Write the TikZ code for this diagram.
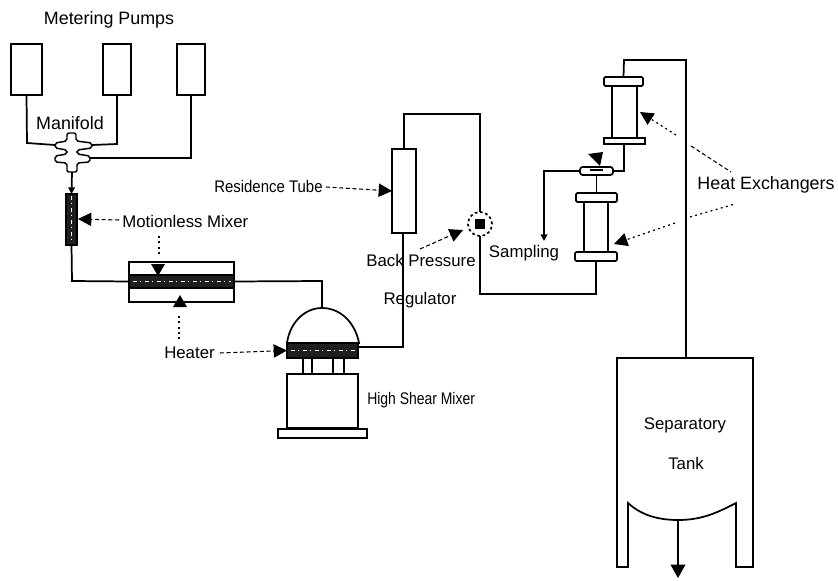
\documentclass[tikz,border=0pt]{standalone}
\usepackage{fontspec}
\usepackage{graphicx}
\setmainfont{Liberation Sans}
\usetikzlibrary{arrows.meta,calc}
\tikzset{
  box/.style={draw=black,line width=1.3pt,fill=white,inner sep=0pt,outer sep=0pt,rectangle},
  band/.style={box,fill=black!88},
  pipe/.style={draw=black,line width=1.3pt,line join=miter},
  lead/.style={draw=black,line width=0.8pt,densely dashed},
  dotlead/.style={draw=black,line width=0.9pt,dash pattern=on 1.5pt off 2.5pt},
  tip/.style={-{Triangle[length=10pt,width=10pt]}},
  smalltip/.style={-{Triangle[length=5pt,width=5pt]}},
  label/.style={font=\fontsize{13.4}{15}\selectfont,inner sep=0pt,anchor=center},
  labelmid/.style={label,font=\fontsize{12.6}{14}\selectfont},
  speck/.style={draw=white,line width=0.5pt,dash pattern=on 3pt off 2pt on 1pt off 3pt},
}
\newcommand\pxbox[6][box]{\node[#1,minimum width={(#5-#3)*0.75pt},minimum height={(#6-#4)*0.75pt}] (#2) at ({(#3+#5)/2},{(#4+#6)/2}) {};}
\begin{document}
\begin{tikzpicture}[x=0.75pt,y=-0.75pt]
\useasboundingbox (0,0) rectangle (838,581);
% pumps
\pxbox{pa}{11}{44}{42}{95}
\pxbox{pb}{103}{44}{131}{95}
\pxbox{pc}{177}{44}{205}{95}
\node[label] (tpumps) at (109,20) {Metering Pumps};
\node[label] (tman) at (70,123) {Manifold};
% manifold
\coordinate (mfl) at (55,145);
\coordinate (mfr) at (92,145);
\coordinate (mfrr) at (90,158);
\coordinate (mfb) at (72,172);
\draw[box,line width=1.1pt,rounded corners=1.5pt] (67,133) -- (76,133) -- (76,141) -- (92,143) -- (92,148) -- (77,150) -- (77,154) -- (90,156) -- (90,162) -- (77,163) -- (77,172) -- (67,172) -- (67,163) -- (55,162) -- (55,156) -- (67,154) -- (67,150) -- (55,148) -- (55,143) -- (67,141) -- cycle;
\draw[pipe] (pa.south) -- (27,143) -- (mfl);
\draw[pipe] (pb.south) -- (117,144) -- (mfr);
\draw[pipe] (pc.south) -- (191,158) -- (mfrr);
% motionless mixer
\pxbox[band]{mix}{66}{194}{77}{245}
\draw[speck] (71.5,196) -- (71.5,243);
\draw[pipe,smalltip] (mfb) -- (mix.north);
\coordinate (mixarrow) at (78,219);
\node[labelmid,anchor=west] (tmix) at (122,221) {Motionless Mixer};
\draw[lead,tip] (tmix.west) ++(-3,-1) -- (mixarrow);
% heater 1
\pxbox{ht}{129}{262}{234}{302}
\pxbox[band]{htb}{129}{275}{234}{288}
\draw[speck] (133,281) -- (231,281);
\fill (151,264) -- (165,264) -- (158,276) -- cycle;
\fill (173,307) -- (187,307) -- (180,295) -- cycle;
\draw[dotlead] (159,236) -- (159,254);
\draw[dotlead] (179,316) -- (179,341);
\draw[pipe] (mix.south) -- (72,281) -- (htb.west);
% mixer vessel
\coordinate (domel) at (287,343);
\coordinate (domer) at (359,343);
\coordinate (dometop) at (322,308);
\draw[box] (domel) .. controls (290,322) and (305,308) .. (dometop) .. controls (340,308) and (355,322) .. (domer) -- cycle;
\pxbox[band]{vb}{287}{343}{358}{358}
\draw[speck] (291,350) -- (355,350);
\pxbox{lega}{303}{358}{312}{374}
\pxbox{legb}{333}{358}{344}{374}
\pxbox{hs}{287}{374}{358}{428}
\pxbox{hsb}{278}{429}{367}{438}
\draw[pipe] (htb.east) -- (322,281) -- (dometop);
\node[labelmid,anchor=west] (theat) at (164,353) {Heater};
\draw[lead,tip] (theat.east) ++(5,0) -- (vb.west);
\node[labelmid,anchor=west] (ths) at (367,400) {\scalebox{0.83}[1]{High Shear Mixer}};
% residence tube
\pxbox{rt}{392}{149}{416}{233}
\coordinate (vbout) at (358,347);
\draw[pipe] (vbout) -- (403,347) -- (403,233.5);
\node[labelmid,anchor=west] (trt) at (214,186) {\scalebox{0.89}[1]{Residence Tube}};
\draw[lead,tip] (trt.east) ++(3,1) -- (rt.west);
% back pressure regulator
\node[draw=black,line width=1.3pt,dash pattern=on 2pt off 2pt,circle,minimum size=18pt,inner sep=0pt,outer sep=0pt] (bpr) at (480,224) {};
\fill (475,219) rectangle (485,229);
\draw[pipe] (404,149) -- (404,114) -- (480,114) -- (bpr.north);
\node[labelmid] (tbp) at (421,260) {Back Pressure};
\node[labelmid] (treg) at (420,300) {Regulator};
\coordinate (bpa) at (463,230);
\coordinate (bpb) at (420,249);
\draw[lead,tip] (bpb) -- (bpa);
\node[labelmid] (tsamp) at (524,253) {Sampling};
% lower exchanger
\pxbox[box,rounded corners=1pt]{lxt}{576}{193}{617}{202}
\pxbox[box,rounded corners=1pt]{lxb}{575}{252}{617}{261}
\draw[pipe] (584,202) -- (584,252) (608,202) -- (608,252);
\draw[pipe] (bpr.south) -- (480,294) -- (596,294) -- (lxb.south);
% valve
\pxbox[box,rounded corners=2pt]{val}{580}{167}{613}{175}
\draw[pipe] (590,170) -- (603,170);
\draw[pipe] (val.south) -- (lxt.north);
\coordinate (sampend) at (544,241);
\draw[pipe,smalltip] (val.west) -- (544,171) -- (sampend);
\fill (588,154) -- (603,152) -- (600,166) -- cycle;
% upper exchanger
\pxbox[box,rounded corners=1pt]{uxt}{604}{77}{643}{86}
\pxbox{uxb}{604}{138}{645}{144}
\draw[pipe] (612,86) -- (612,138) (637,86) -- (637,138);
\draw[pipe] (val.east) -- (624,171) -- (624,144);
% tank
\coordinate (tanktop) at (686,358);
\draw[pipe] (uxt.north) -- (624,60) -- (686,60) -- (tanktop);
\coordinate (bowlbot) at (678,520);
\coordinate (outlet) at (678,578);
\draw[pipe,fill=white] (617,358) -- (753,358) -- (753,567) -- (736,567) -- (736,503) .. controls (715,514) and (700,520) .. (bowlbot) .. controls (656,520) and (640,514) .. (628,503) -- (628,567) -- (617,567) -- cycle;
\draw[draw=black,line width=1pt,-{Triangle[length=10pt,width=11pt]}] (bowlbot) -- (outlet);
\node[labelmid] (tsep) at (685,425) {Separatory};
\node[labelmid] (ttank) at (686,463) {Tank};
% heat exchanger leads
\node[label] (thx) at (766,185) {Heat Exchangers};
\coordinate (ha) at (640,112);
\coordinate (hb) at (676,135);
\coordinate (hc) at (691,146);
\coordinate (hd) at (731,172);
\coordinate (la) at (614,244);
\coordinate (lb) at (675,223);
\coordinate (lc) at (690,217);
\coordinate (ld) at (735,204);
\draw[dotlead,tip] (hb) -- (ha);
\draw[lead] (hc) -- (hd);
\draw[dotlead,tip] (lb) -- (la);
\draw[dotlead] (lc) -- (ld);
\end{tikzpicture}
\end{document}
